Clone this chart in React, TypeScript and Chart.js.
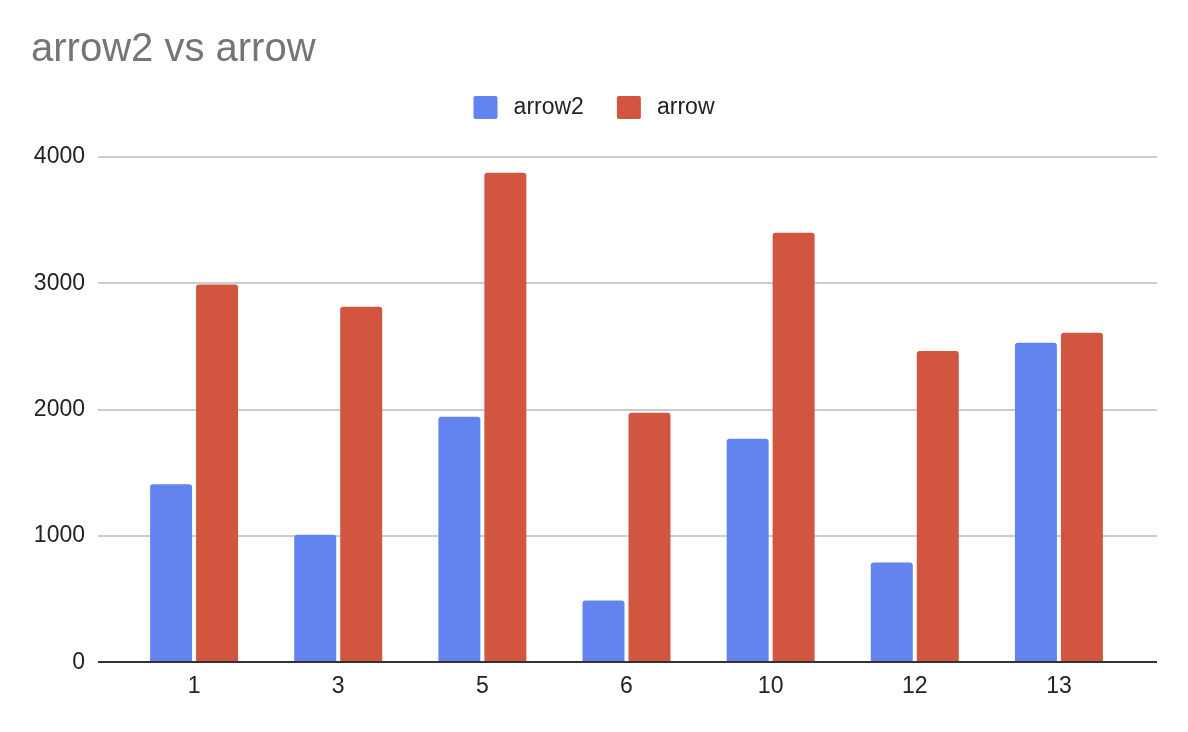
import React, { useEffect, useRef } from "react";
import { Chart, registerables } from "chart.js";

Chart.register(...registerables);

const categories = ["1", "3", "5", "6", "10", "12", "13"];
const arrow2Values = [1410, 1010, 1945, 490, 1770, 790, 2530];
const arrowValues = [2990, 2815, 3875, 1975, 3400, 2465, 2610];
const yTicks = [0, 1000, 2000, 3000, 4000];

const FONT = "'Liberation Sans', Arial, sans-serif";

const gridPlugin = {
  id: "extendedGrid",
  beforeDatasetsDraw(chart: any) {
    const { ctx, chartArea, scales } = chart;
    const y = scales.y;
    ctx.save();
    ctx.strokeStyle = "#cccccc";
    ctx.lineWidth = 2;
    yTicks.forEach((v) => {
      if (v === 0) return;
      const py = Math.round(y.getPixelForValue(v));
      ctx.beginPath();
      ctx.moveTo(chartArea.left - 24, py);
      ctx.lineTo(chartArea.right + 26, py);
      ctx.stroke();
    });
    ctx.restore();
  },
  afterDatasetsDraw(chart: any) {
    const { ctx, chartArea, scales } = chart;
    const py = Math.round(scales.y.getPixelForValue(0));
    ctx.save();
    ctx.strokeStyle = "#333333";
    ctx.lineWidth = 2;
    ctx.beginPath();
    ctx.moveTo(chartArea.left - 24, py);
    ctx.lineTo(chartArea.right + 26, py);
    ctx.stroke();
    ctx.restore();
  },
};

export default function App() {
  const ref = useRef<HTMLCanvasElement | null>(null);
  useEffect(() => {
    if (!ref.current) return;
    const chart = new Chart(ref.current, {
      type: "bar",
      data: {
        labels: categories,
        datasets: [
          {
            label: "arrow2",
            data: arrow2Values,
            backgroundColor: "#6384ee",
            borderRadius: 3,
            borderSkipped: "start",
            categoryPercentage: 0.638,
            barPercentage: 0.913,
          },
          {
            label: "arrow",
            data: arrowValues,
            backgroundColor: "#d1553f",
            borderRadius: 3,
            borderSkipped: "start",
            categoryPercentage: 0.638,
            barPercentage: 0.913,
          },
        ],
      },
      options: {
        responsive: false,
        animation: false,
        layout: { padding: { left: 31, right: 31, top: 0, bottom: 22 } },
        plugins: {
          title: {
            display: true,
            text: "arrow2 vs arrow",
            align: "start",
            color: "#757575",
            font: { family: FONT, size: 40, weight: "normal", lineHeight: 1 },
            padding: { top: 30, bottom: -7 },
          },
          legend: {
            display: true,
            position: "top",
            align: "center",
            labels: {
              boxWidth: 24,
              boxHeight: 23,
              padding: 33,
              color: "#222222",
              font: { family: FONT, size: 23 },
              useBorderRadius: true,
              borderRadius: 2,
              generateLabels: (chart: any) => {
                const items = Chart.defaults.plugins.legend.labels.generateLabels(chart);
                return items.map((it: any) => ({ ...it, text: "\u2009" + it.text }));
              },
            },
          },
          tooltip: { enabled: false },
        },
        scales: {
          x: {
            grid: { display: false, drawTicks: false },
            border: { display: false },
            ticks: {
              color: "#222222",
              font: { family: FONT, size: 23 },
              padding: 10,
            },
          },
          xTop: {
            position: "top",
            display: true,
            grid: { display: false, drawTicks: false },
            border: { display: false },
            ticks: { display: false },
            afterFit: (s: any) => {
              s.height = 28;
            },
          },
          y: {
            min: 0,
            max: 4000,
            grid: { display: false, drawTicks: false },
            border: { display: false },
            ticks: {
              stepSize: 1000,
              color: "#222222",
              font: { family: FONT, size: 23 },
              padding: 37,
              callback: (v: any) => String(v),
            },
            afterFit: (s: any) => {
              s.width = 91;
            },
          },
          yRight: {
            position: "right",
            display: true,
            grid: { display: false, drawTicks: false },
            border: { display: false },
            ticks: { display: false },
            afterFit: (s: any) => {
              s.width = 26;
            },
          },
        },
      } as any,
      plugins: [gridPlugin],
    });
    return () => chart.destroy();
  }, []);

  return (
    <div style={{ position: "fixed", left: 0, top: 0, width: 1188, height: 732, background: "#ffffff" }}>
      <canvas ref={ref} width={1188} height={732} />
    </div>
  );
}
